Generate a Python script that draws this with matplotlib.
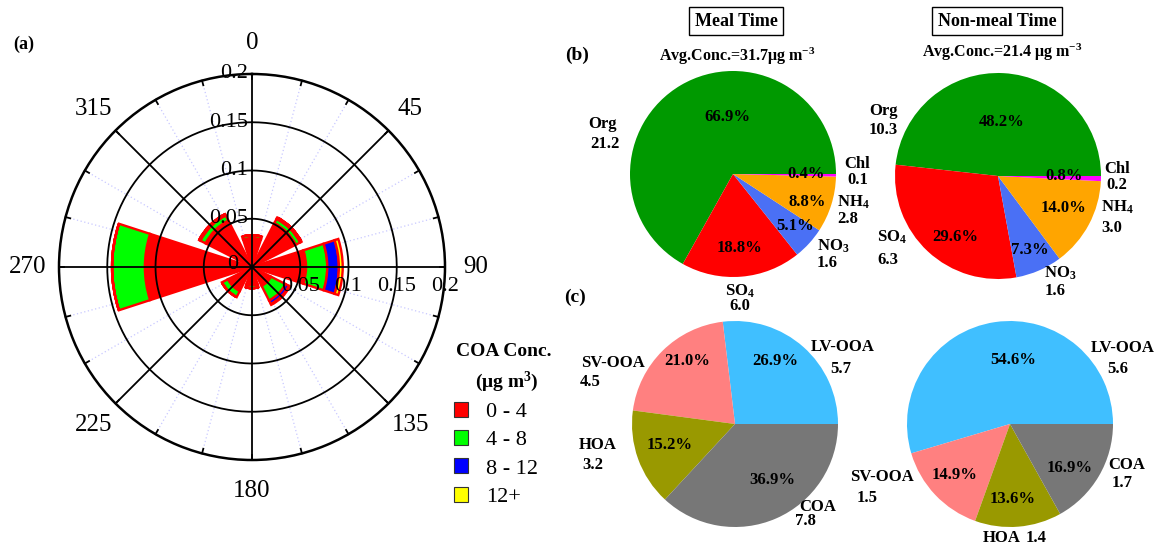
import matplotlib
matplotlib.use('Agg')
import numpy as np
import matplotlib.pyplot as plt
from matplotlib.patches import Patch

plt.rcParams['font.family'] = ['Liberation Serif', 'DejaVu Serif']
plt.rcParams['mathtext.fontset'] = 'custom'
plt.rcParams['mathtext.rm'] = 'Liberation Serif:bold'
plt.rcParams['mathtext.bf'] = 'Liberation Serif:bold'
plt.rcParams['mathtext.it'] = 'Liberation Serif:bold'

# wind rose: frequency of COA concentration classes per wind direction
directions = [0, 45, 90, 135, 180, 225, 270, 315]
freq_0_4 = [0.030, 0.051, 0.056, 0.022, 0.019, 0.028, 0.111, 0.054]
freq_4_8 = [0.003, 0.005, 0.022, 0.017, 0.003, 0.007, 0.034, 0.006]
freq_8_12 = [0.0, 0.0015, 0.012, 0.004, 0.0, 0.0, 0.0, 0.0015]
freq_12p = [0.0, 0.0, 0.004, 0.001, 0.0, 0.0, 0.0, 0.0]
class_labels = ['0 - 4', '4 - 8', '8 - 12', '12+']
class_colors = ['#ff0000', '#00ff00', '#0000ff', '#ffff00']
radial_ticks = [0.05, 0.1, 0.15, 0.2]

# PM1 composition
species = ['Org', 'SO$_4$', 'NO$_3$', 'NH$_4$', 'Chl']
species_colors = ['#009900', '#ff0000', '#4a70f5', '#ffa500', '#ff00ff']
meal_pct = [66.9, 18.8, 5.1, 8.8, 0.4]
meal_conc = [21.2, 6.0, 1.6, 2.8, 0.1]
nonmeal_pct = [48.2, 29.6, 7.3, 14.0, 0.8]
nonmeal_conc = [10.3, 6.3, 1.6, 3.0, 0.2]
meal_total = 31.7
nonmeal_total = 21.4

# OA factors
factors = ['LV-OOA', 'SV-OOA', 'HOA', 'COA']
factor_colors = ['#40bfff', '#ff8080', '#999900', '#777777']
meal_oa_pct = [26.9, 21.0, 15.2, 36.9]
meal_oa_conc = [5.7, 4.5, 3.2, 7.8]
nonmeal_oa_pct = [54.6, 14.9, 13.6, 16.9]
nonmeal_oa_conc = [5.6, 1.5, 1.4, 1.7]

W, H = 1159, 550
fig = plt.figure(figsize=(W / 100, H / 100), dpi=100)


def fx(x):
    return x / W


def fy(y):
    return 1 - y / H


def put(x, y, s, size=12, weight='bold', **kw):
    fig.text(fx(x), fy(y), s, ha='center', va='center', fontsize=size,
             fontweight=weight, **kw)


# ---- (a) wind rose ----
R = 193
ax = fig.add_axes([fx(252 - R), fy(267 + R), 2 * R / W, 2 * R / H], projection='polar')
ax.set_theta_zero_location('N')
ax.set_theta_direction(-1)
theta = np.deg2rad(directions)
width = np.deg2rad(36)
bottom = np.zeros(len(directions))
for vals, col in zip([freq_0_4, freq_4_8, freq_8_12, freq_12p], class_colors):
    vals = np.array(vals)
    ax.bar(theta, vals, width=width, bottom=bottom, color=col,
           edgecolor='red', linewidth=1.7, zorder=2)
    bottom += vals
ax.set_ylim(0, 0.2)
ax.grid(False)
ax.set_xticks([])
ax.set_yticks([])
ax.spines['polar'].set_linewidth(1.8)

th = np.linspace(0, 2 * np.pi, 400)
for r in radial_ticks[:-1]:
    ax.plot(th, np.full_like(th, r), color='black', lw=1.3, zorder=4)
for a in range(0, 360, 15):
    rad = np.deg2rad(a)
    if a % 45:
        ax.plot([rad, rad], [0, 0.2], color='#c8c8ff', ls=(0, (1, 2)), lw=0.9, zorder=1)
    else:
        ax.plot([rad, rad], [0, 0.2], color='black', lw=1.3, zorder=4)
    ax.plot([rad, rad], [0.195, 0.2], color='black', lw=1.3, zorder=4, clip_on=False)

for a in range(0, 360, 45):
    ax.text(np.deg2rad(a), 0.232, str(a), ha='center', va='center', fontsize=18)

for r in radial_ticks:
    ax.annotate(f'{r:g}', xy=(0, r), xytext=(-3, 0), textcoords='offset points',
                ha='right', va='center', fontsize=16, zorder=5)
    ax.annotate(f'{r:g}', xy=(np.pi / 2, r), xytext=(0, -7), textcoords='offset points',
                ha='center', va='top', fontsize=16, zorder=5)
ax.annotate('0', xy=(0, 0), xytext=(-10, 2), textcoords='offset points',
            ha='right', va='center', fontsize=16, zorder=5)

put(24, 44, '(a)', size=13)

put(504, 352, 'COA Conc.', size=14)
put(507, 382, '(μg m$^3$)', size=14)
handles = [Patch(facecolor=c, edgecolor='#333333', linewidth=0.8) for c in class_colors]
fig.legend(handles, class_labels, loc='upper left', bbox_to_anchor=(fx(454), fy(402)),
           frameon=False, fontsize=16, handlelength=0.65, handleheight=0.65,
           handletextpad=0.8, labelspacing=0.36, borderpad=0, borderaxespad=0)


# ---- (b), (c) pies ----
def draw_pie(cx, cy, pct, colors, r=103):
    pa = fig.add_axes([fx(cx - r), fy(cy + r), 2 * r / W, 2 * r / H])
    pa.pie(pct, colors=colors, startangle=0, counterclock=True,
           wedgeprops=dict(linewidth=0))
    pa.set_xlim(-1, 1)
    pa.set_ylim(-1, 1)
    return pa


draw_pie(733, 174, meal_pct, species_colors)
draw_pie(998, 176, nonmeal_pct, species_colors)
draw_pie(735, 424, meal_oa_pct, factor_colors)
draw_pie(1010, 424, nonmeal_oa_pct, factor_colors)

put(736, 21, 'Meal Time', size=13,
    bbox=dict(boxstyle='square,pad=0.3', fc='white', ec='black', lw=1))
put(997, 21, 'Non-meal Time', size=13,
    bbox=dict(boxstyle='square,pad=0.3', fc='white', ec='black', lw=1))
put(737, 56, f'Avg.Conc.={meal_total}μg m$^{{-3}}$', size=11.5)
put(1002, 52, f'Avg.Conc.={nonmeal_total} μg m$^{{-3}}$', size=11.5)
put(577, 55, '(b)', size=14)
put(575, 297, '(c)', size=14)

# label layout: (name xy, value xy, percent xy)
meal_pos = [((603, 124), (605, 144), (727, 117)),
            ((740, 291), (740, 306), (740, 248)),
            ((833, 246), (827, 263), (795, 226)),
            ((853, 202), (848, 219), (807, 202)),
            ((857, 164), (858, 180), (806, 174))]
nonmeal_pos = [((883, 111), (883, 130), (1002, 122)),
               ((892, 237), (888, 260), (955, 237)),
               ((1060, 273), (1055, 291), (1030, 250)),
               ((1117, 207), (1112, 228), (1063, 208)),
               ((1117, 169), (1117, 185), (1064, 176))]
meal_oa_pos = [((843, 347), (841, 369), (775, 361)),
               ((613, 363), (590, 382), (687, 361)),
               ((598, 445), (593, 465), (670, 445)),
               ((818, 507), (805, 521), (772, 480))]
nonmeal_oa_pos = [((1123, 348), (1118, 369), (1013, 360)),
                  ((882, 477), (867, 498), (955, 475)),
                  ((1002, 538), (1036, 538), (1013, 499)),
                  ((1127, 465), (1122, 483), (1070, 468))]

for names, pcts, concs, poss in [(species, meal_pct, meal_conc, meal_pos),
                                  (species, nonmeal_pct, nonmeal_conc, nonmeal_pos),
                                  (factors, meal_oa_pct, meal_oa_conc, meal_oa_pos),
                                  (factors, nonmeal_oa_pct, nonmeal_oa_conc, nonmeal_oa_pos)]:
    for name, p, c, (npos, vpos, ppos) in zip(names, pcts, concs, poss):
        put(*npos, name)
        put(*vpos, f'{c:.1f}')
        put(*ppos, f'{p:.1f}%')

fig.savefig('out.png', dpi=100)
